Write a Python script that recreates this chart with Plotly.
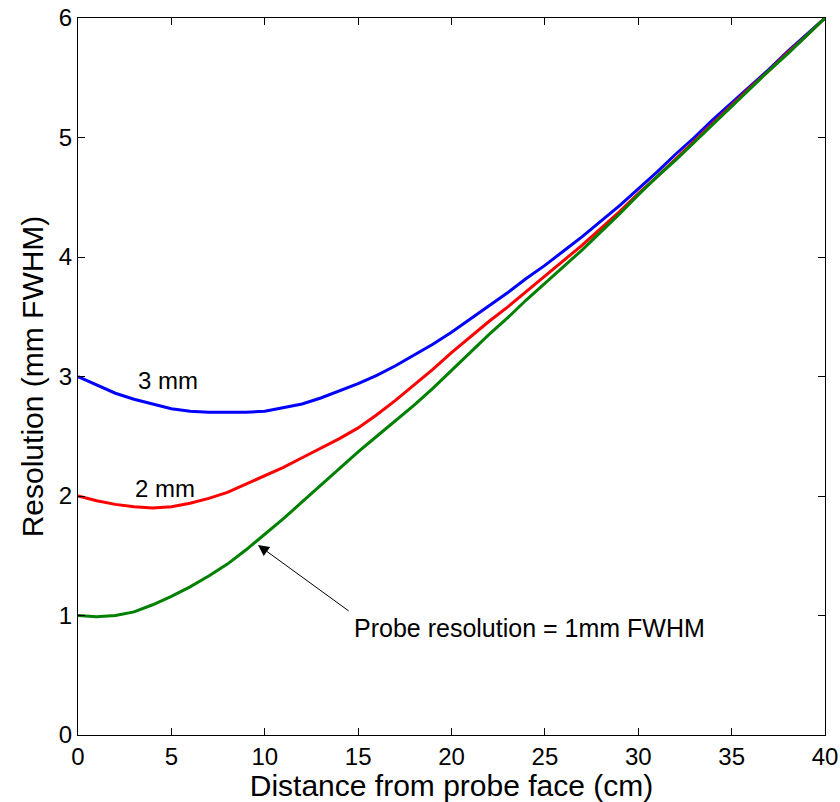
import plotly.graph_objects as go

distance_cm = list(range(0, 41))

res_3mm = [3.00, 2.93, 2.86, 2.81, 2.77, 2.73, 2.71, 2.70, 2.70, 2.70,
           2.71, 2.74, 2.77, 2.82, 2.88, 2.94, 3.01, 3.09, 3.18, 3.27,
           3.37, 3.48, 3.59, 3.70, 3.82, 3.93, 4.05, 4.17, 4.30, 4.43,
           4.57, 4.71, 4.86, 5.00, 5.15, 5.29, 5.43, 5.57, 5.72, 5.86, 6.00]

res_2mm = [2.00, 1.96, 1.93, 1.91, 1.90, 1.91, 1.94, 1.98, 2.03, 2.10,
           2.17, 2.24, 2.32, 2.40, 2.48, 2.57, 2.68, 2.80, 2.93, 3.06,
           3.20, 3.33, 3.46, 3.58, 3.71, 3.84, 3.97, 4.10, 4.24, 4.38,
           4.53, 4.67, 4.82, 4.97, 5.12, 5.27, 5.42, 5.56, 5.71, 5.85, 6.00]

res_1mm = [1.00, 0.99, 1.00, 1.03, 1.09, 1.16, 1.24, 1.33, 1.43, 1.55,
           1.68, 1.81, 1.95, 2.09, 2.23, 2.37, 2.50, 2.63, 2.76, 2.90,
           3.05, 3.20, 3.35, 3.49, 3.64, 3.78, 3.92, 4.06, 4.21, 4.36,
           4.52, 4.67, 4.81, 4.96, 5.11, 5.26, 5.41, 5.56, 5.70, 5.85, 6.00]

x_ticks = [0, 5, 10, 15, 20, 25, 30, 35, 40]
y_ticks = [0, 1, 2, 3, 4, 5, 6]

FONT = "Liberation Sans, Arial, sans-serif"

fig = go.Figure()
fig.add_trace(go.Scatter(x=distance_cm, y=res_3mm, mode="lines",
                         line=dict(color="#0000FF", width=3), name="3 mm"))
fig.add_trace(go.Scatter(x=distance_cm, y=res_2mm, mode="lines",
                         line=dict(color="#FF0000", width=3), name="2 mm"))
fig.add_trace(go.Scatter(x=distance_cm, y=res_1mm, mode="lines",
                         line=dict(color="#008000", width=3), name="1 mm"))

ann_font = dict(family=FONT, size=24, color="black")
fig.add_annotation(x=4.82, y=2.97, text="3 mm", showarrow=False, font=ann_font)
fig.add_annotation(x=4.66, y=2.06, text="2 mm", showarrow=False, font=ann_font)
fig.add_annotation(x=9.64, y=1.59, ax=14.57, ay=1.03, axref="x", ayref="y",
                   text="", showarrow=True, arrowhead=2, arrowsize=2.2,
                   arrowwidth=1, arrowcolor="black")
fig.add_annotation(x=14.67, y=0.895, text="Probe resolution = 1mm FWHM",
                   showarrow=False, xanchor="left", yanchor="middle",
                   font=dict(family=FONT, size=25, color="black"))

axis_common = dict(showline=True, linecolor="black", linewidth=1, mirror="ticks",
                   ticks="inside", ticklen=7, tickcolor="black", showgrid=False,
                   zeroline=False, automargin=False,
                   tickfont=dict(family=FONT, size=24, color="black"))

fig.update_xaxes(range=[0, 40], tickvals=x_ticks,
                 title=dict(text="Distance from probe face (cm)",
                            font=dict(family=FONT, size=30, color="black"), standoff=2),
                 **axis_common)
fig.update_yaxes(range=[0, 6], tickvals=y_ticks,
                 title=dict(text="Resolution (mm FWHM)",
                            font=dict(family=FONT, size=30, color="black"), standoff=6),
                 **axis_common)

fig.update_layout(width=840, height=802, showlegend=False,
                  plot_bgcolor="white", paper_bgcolor="white",
                  margin=dict(l=78, r=15, t=18, b=67))

fig.write_html("out.html")
